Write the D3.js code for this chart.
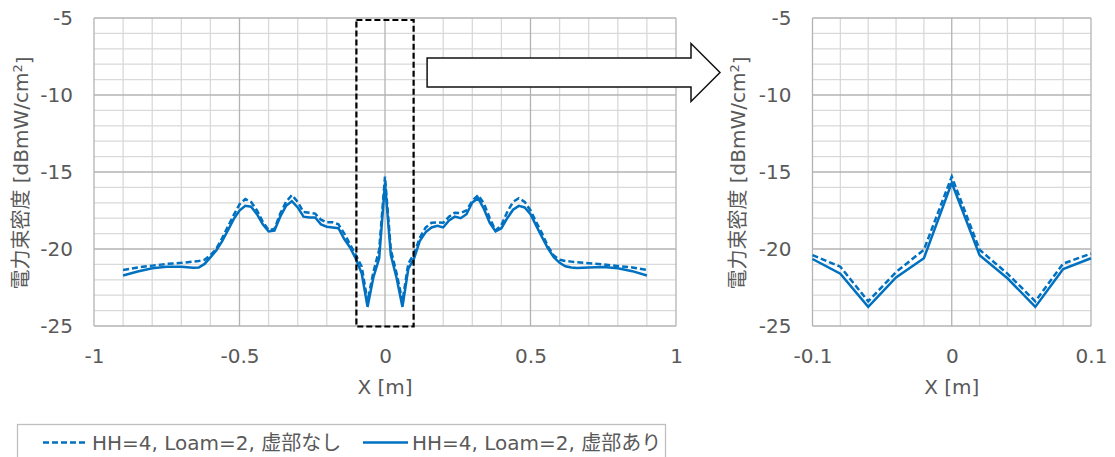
<!DOCTYPE html>
<html><head><meta charset="utf-8">
<script src="https://cdn.jsdelivr.net/npm/d3@7"></script>
<style>
body{margin:0;background:#fff}
svg{display:block}
text{font-family:"DejaVu Sans","Noto Sans CJK JP",sans-serif;fill:#595959;font-size:20px}
</style>
</head><body><svg id="c" width="1115" height="457"></svg>
<script>
// ---------------- data ----------------
const xValues = [-0.9,-0.85,-0.8,-0.75,-0.7,-0.66,-0.64,-0.62,-0.6,-0.58,-0.56,-0.54,-0.52,-0.5,-0.48,-0.46,-0.44,-0.42,-0.4,-0.38,-0.36,-0.34,-0.32,-0.3,-0.28,-0.26,-0.24,-0.22,-0.2,-0.18,-0.16,-0.14,-0.12,-0.1,-0.08,-0.06,-0.04,-0.02,0,
  0.02,0.04,0.06,0.08,0.1,0.12,0.14,0.16,0.18,0.2,0.22,0.24,0.26,0.28,0.3,0.32,0.34,0.36,0.38,0.4,0.42,0.44,0.46,0.48,0.5,0.52,0.54,0.56,0.58,0.6,0.62,0.64,0.66,0.7,0.75,0.8,0.85,0.9];
// HH=4, Loam=2, 虚部なし (dashed)
const seriesNashi = [-21.36,-21.2,-21.08,-20.97,-20.9,-20.82,-20.78,-20.7,-20.4,-20.0,-19.3,-18.55,-17.8,-17.1,-16.76,-16.95,-17.5,-18.23,-18.77,-18.7,-17.7,-16.94,-16.5,-16.94,-17.6,-17.64,-17.7,-18.1,-18.27,-18.27,-18.4,-19.0,-19.7,-20.4,-21.15,-23.4,-21.5,-20.05,-15.3,
  -20.05,-21.6,-23.4,-20.95,-20.3,-19.25,-18.6,-18.3,-18.27,-18.3,-17.9,-17.64,-17.66,-17.5,-16.87,-16.5,-17.05,-18.0,-18.8,-18.45,-17.6,-16.94,-16.7,-16.94,-17.5,-18.27,-19.0,-19.83,-20.43,-20.7,-20.78,-20.82,-20.86,-20.93,-21.0,-21.1,-21.2,-21.36];
// HH=4, Loam=2, 虚部あり (solid)
const seriesAri = [-21.72,-21.46,-21.25,-21.15,-21.15,-21.22,-21.2,-20.97,-20.54,-20.1,-19.5,-18.8,-18.06,-17.5,-17.2,-17.25,-17.74,-18.4,-18.86,-18.8,-17.9,-17.2,-16.9,-17.3,-17.9,-17.95,-17.95,-18.4,-18.55,-18.6,-18.65,-19.35,-19.9,-20.65,-21.6,-23.76,-21.85,-20.6,-15.7,
  -20.4,-21.9,-23.76,-21.3,-20.6,-19.46,-18.9,-18.6,-18.5,-18.6,-18.15,-17.9,-18.0,-17.74,-16.98,-16.7,-17.4,-18.3,-18.86,-18.65,-18.0,-17.45,-17.2,-17.3,-17.74,-18.5,-19.25,-19.96,-20.54,-20.9,-21.12,-21.2,-21.23,-21.2,-21.17,-21.25,-21.44,-21.72];
const seriesNames = ["HH=4, Loam=2, 虚部なし", "HH=4, Loam=2, 虚部あり"];
const yTicks = [-5,-10,-15,-20,-25];
const xTicksMain = [-1,-0.5,0,0.5,1];
const xTicksZoom = [-0.1,0,0.1];
const xTitle = "X [m]";
const yTitleMain = "電力束密度 [dBmW/cm";
const yTitleSup = "2";

// ---------------- layout ----------------
const svg = d3.select("#c");
const BLUE = "#0070C0", MAJOR = "#b3b3b3", MINOR = "#d9d9d9";
const plotTop = 18, plotBottom = 326;
const panels = [
  {left:94, right:676, domain:[-1,1], n:20, majorEvery:5, ticks:xTicksMain, titleX:21},
  {left:812.5, right:1091, domain:[-0.1,0.1], n:10, majorEvery:5, ticks:xTicksZoom, titleX:738}
];
const y = d3.scaleLinear().domain([-25,-5]).range([plotBottom, plotTop]);
const pts = xValues.map((x,i)=>({x, a:seriesAri[i], n:seriesNashi[i]}));

panels.forEach(p=>{
  const x = d3.scaleLinear().domain(p.domain).range([p.left,p.right]);
  p.x = x;
  const g = svg.append("g");
  const step = (p.domain[1]-p.domain[0])/p.n;
  const xi = d3.range(p.n+1), yi = d3.range(21);
  // minor grid
  g.selectAll(".vm").data(xi.filter(i=>i%p.majorEvery)).join("line")
    .attr("x1",i=>x(p.domain[0]+i*step)).attr("x2",i=>x(p.domain[0]+i*step))
    .attr("y1",plotTop).attr("y2",plotBottom).attr("stroke",MINOR).attr("stroke-width",1.3);
  g.selectAll(".hm").data(yi.filter(i=>i%5)).join("line")
    .attr("y1",i=>y(-25+i)).attr("y2",i=>y(-25+i))
    .attr("x1",p.left).attr("x2",p.right).attr("stroke",MINOR).attr("stroke-width",1.3);
  // major grid
  g.selectAll(".vM").data(xi.filter(i=>i%p.majorEvery===0)).join("line")
    .attr("x1",i=>x(p.domain[0]+i*step)).attr("x2",i=>x(p.domain[0]+i*step))
    .attr("y1",plotTop).attr("y2",plotBottom).attr("stroke",MAJOR).attr("stroke-width",1.3);
  g.selectAll(".hM").data(yi.filter(i=>i%5===0)).join("line")
    .attr("y1",i=>y(-25+i)).attr("y2",i=>y(-25+i))
    .attr("x1",p.left).attr("x2",p.right).attr("stroke",MAJOR).attr("stroke-width",1.3);

  // axes
  const ya = svg.append("g").attr("transform",`translate(${p.left},0)`)
    .call(d3.axisLeft(y).tickValues(yTicks).tickSize(0).tickPadding(21).tickFormat(d=>String(d)));
  const xa = svg.append("g").attr("transform",`translate(0,${plotBottom})`)
    .call(d3.axisBottom(x).tickValues(p.ticks).tickSize(0).tickPadding(23).tickFormat(d=>String(d)));
  [ya,xa].forEach(a=>{a.select(".domain").remove();a.selectAll("text").attr("fill","#595959").style("font-size","20px").style("font-family",'"DejaVu Sans","Noto Sans CJK JP",sans-serif');});

  // titles
  svg.append("text").attr("x",(p.left+p.right)/2).attr("y",394).attr("text-anchor","middle").text(xTitle);
  const t = svg.append("text").attr("transform",`translate(${p.titleX},173) rotate(-90)`)
    .attr("text-anchor","middle").attr("dy","0.35em");
  t.append("tspan").text(yTitleMain);
  t.append("tspan").attr("dy","-0.45em").style("font-size","13px").text(yTitleSup);
  t.append("tspan").attr("dy","0.45em").text("]");

  // series
  const data = pts.filter(d=>d.x>=p.domain[0]-1e-9 && d.x<=p.domain[1]+1e-9);
  const lineN = d3.line().x(d=>x(d.x)).y(d=>y(d.n));
  const lineA = d3.line().x(d=>x(d.x)).y(d=>y(d.a));
  svg.append("path").datum(data).attr("d",lineN).attr("fill","none").attr("stroke",BLUE)
    .attr("stroke-width",2.5).attr("stroke-dasharray","6,3");
  svg.append("path").datum(data).attr("d",lineA).attr("fill","none").attr("stroke",BLUE)
    .attr("stroke-width",2.5).attr("stroke-linejoin","miter");
});

// zoom box on main panel
const xm = panels[0].x;
svg.append("rect").attr("x",xm(-0.1)+0.5).attr("y",plotTop+2).attr("width",xm(0.1)-xm(-0.1)-1)
  .attr("height",plotBottom-plotTop-1.5).attr("fill","none").attr("stroke","#000").attr("stroke-width",2.2)
  .attr("stroke-dasharray","6,3");

// arrow
const ax0 = xm(0.1)+13, ax1 = 691, tip = 720, cy = 72.5, hs = 14.5, hh = 29;
svg.append("polygon")
  .attr("points",[[ax0,cy-hs],[ax1,cy-hs],[ax1,cy-hh],[tip,cy],[ax1,cy+hh],[ax1,cy+hs],[ax0,cy+hs]].map(d=>d.join(",")).join(" "))
  .attr("fill","#fff").attr("stroke","#111").attr("stroke-width",1.5);

// legend
const lg = svg.append("g");
lg.append("rect").attr("x",17.5).attr("y",424.5).attr("width",648).attr("height",45)
  .attr("fill","#fff").attr("stroke","#bfbfbf").attr("stroke-width",1.3);
const items = [{x:43, dash:"6,3"},{x:363, dash:null}];
items.forEach((it,i)=>{
  lg.append("line").attr("x1",it.x).attr("x2",it.x+45).attr("y1",442.5).attr("y2",442.5)
    .attr("stroke",BLUE).attr("stroke-width",2.5).attr("stroke-dasharray",it.dash);
  lg.append("text").attr("x",it.x+49).attr("y",449.5).style("font-size","20px").text(seriesNames[i]);
});
</script></body></html>
